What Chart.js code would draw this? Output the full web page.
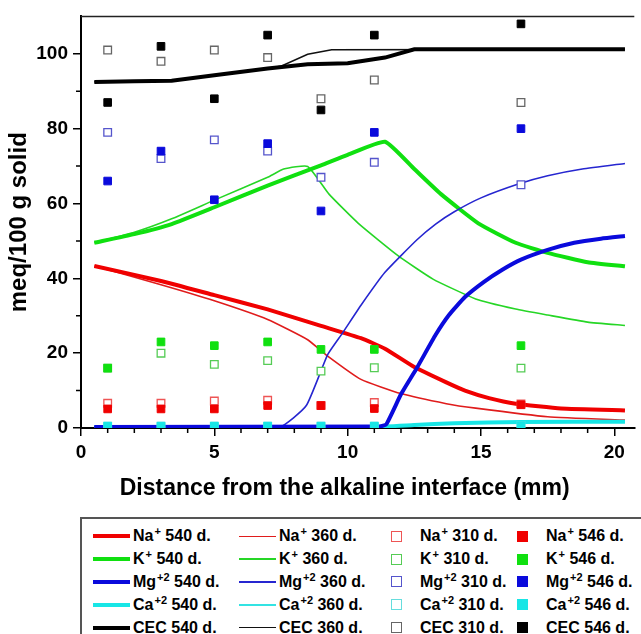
<!DOCTYPE html>
<html>
<head>
<meta charset="utf-8">
<script src="https://cdn.jsdelivr.net/npm/chart.js@4.4.1/dist/chart.umd.min.js"></script>
<style>
  html, body { margin: 0; padding: 0; background: #fff; }
  body { width: 641px; height: 634px; overflow: hidden; position: relative; font-family: 'Liberation Sans', Arial, sans-serif; }
  #chart { position: absolute; left: 0; top: 0; }
  #legend { position: absolute; left: 80px; top: 517px; width: 620px; height: 140px; border: 2px solid #555; box-sizing: border-box; }
  .col { position: absolute; top: 6px; }
  .item { height: 22.8px; display: flex; align-items: center; font-weight: bold; font-size: 16px; white-space: nowrap; color: #000; }
  .item sup { font-size: 11px; line-height: 0; vertical-align: 6px; margin-left: 1px; }
  .line { display: inline-block; width: 37px; margin-right: 3px; }
  .mark { display: inline-block; width: 11px; height: 11px; box-sizing: border-box; margin-right: 18px; }
</style>
</head>
<body>
<canvas id="chart" width="641" height="505"></canvas>
<div id="legend"></div>
<script>
// measured samples (symbols), x in mm
const sampleX = [1, 3, 5, 7, 9, 11, 16.5];
const na310 = [6.6, 6.6, 7.2, 7.4, 6, 6.8, 6.4];
const k310 = [16, 20, 17, 18, 15.2, 16.1, 16];
const mg310 = [79, 72, 77, 74, 67, 71, 65];
const ca310 = [0.5, 0.5, 0.5, 0.5, 0.5, 0.5, 0.6];
const cec310 = [101, 98, 101, 99, 88, 93, 87];
const na546 = [5.1, 5.1, 5.1, 6, 6, 5.2, 6.2];
const k546 = [16, 23, 22, 23, 21, 21, 22];
const mg546 = [66, 74, 61, 76, 58, 79, 80];
const ca546 = [0.5, 0.5, 0.5, 0.5, 0.5, 0.5, 0.6];
const cec546 = [87, 102, 88, 105, 85, 105, 108];

// simulated profiles, 540 d. (thick)
const na540X = [0.5, 3, 5, 7, 9, 10.5, 11.4, 12.5, 13.7, 14.4, 15.3, 16.3, 18, 20.4];
const na540 = [43.3, 39.3, 35.5, 31.7, 27.3, 24, 21.2, 16.3, 12.2, 10, 8, 6.5, 5.2, 4.7];
const k540X = [0.5, 2, 3.4, 5, 7, 9, 10, 11.4, 12.5, 13.5, 14.9, 16.3, 17.5, 19, 20.4];
const k540 = [49.5, 51.8, 54.5, 59, 64.8, 70.2, 73, 76.5, 69.2, 62.5, 54.7, 49.5, 46.8, 44.3, 43.2];
const mg540X = [0.5, 11.2, 11.45, 12, 12.6, 13.3, 13.8, 14.4, 15.1, 15.8, 16.5, 17.5, 18.5, 19.5, 20.4];
const mg540 = [0.3, 0.4, 1, 9, 16.1, 24.9, 30.2, 35, 39, 42.3, 45, 47.6, 49.5, 50.6, 51.3];
const ca540X = [0.5, 11, 12.5, 14, 16.5, 20.4];
const ca540 = [0.3, 0.3, 0.8, 1.3, 1.6, 1.7];
const cec540X = [0.5, 2, 3.4, 5, 7, 8.5, 10, 11.4, 12.5, 20.4];
const cec540 = [92.5, 92.7, 92.8, 94.3, 96.1, 97.2, 97.5, 99, 101.2, 101.2];

// simulated profiles, 360 d. (thin)
const na360X = [0.5, 3, 5, 7, 8.5, 9.2, 10.5, 12, 13.7, 14.8, 17.5, 20.4];
const na360 = [43.3, 38.3, 34, 29, 23.6, 19.5, 13, 9.2, 6.5, 5.3, 3, 2.1];
const k360X = [0.5, 2, 3.4, 5, 7, 7.6, 8.5, 9.3, 10.4, 11.9, 13.2, 14.8, 16.3, 17.5, 19, 20.4];
const k360 = [49.5, 52.3, 55.9, 60.9, 67, 69.2, 69.9, 62.5, 54.7, 46, 39.8, 34.5, 31.8, 30.2, 28.3, 27.4];
const mg360X = [0.5, 7.45, 8.45, 9.25, 9.8, 10.5, 11.4, 12.6, 13.3, 14, 15, 16.4, 17.5, 18.8, 20.4];
const mg360 = [0.3, 0.3, 6, 19.6, 25.3, 32.8, 41.6, 50.3, 54.5, 57.8, 61.5, 65.2, 67.4, 69.2, 70.7];
const ca360X = [0.5, 11, 12.5, 14, 16.5, 20.4];
const ca360 = [0.3, 0.4, 0.9, 1.3, 1.5, 1.6];
const cec360X = [0.5, 3.4, 5, 7, 7.5, 8.5, 9.4, 20.4];
const cec360 = [92.5, 92.8, 94.3, 96.1, 96.7, 99.9, 101.1, 101.2];

const xTicks = [0, 5, 10, 15, 20];
const yTicks = [0, 20, 40, 60, 80, 100];
const ions = ['Na', 'K', 'Mg', 'Ca', 'CEC'];
const charges = ['+', '+', '+2', '+2', ''];
const thickColors = ['#f00000', '#10e010', '#0a0adc', '#17e6e6', '#000000'];
const thinColors = ['#e01c1c', '#26d626', '#2626d0', '#33e3e3', '#111111'];
const openColors = ['#ee5555', '#55cc55', '#5555cc', '#66dddd', '#666666'];
const xTitle = 'Distance from the alkaline interface (mm)';
const yTitle = 'meq/100 g solid';

const FONT = "'Liberation Sans', Arial, sans-serif";
const pts = (xs, ys) => xs.map((x, i) => ({ x: x, y: ys[i] }));

const lines540 = [[na540X, na540], [k540X, k540], [mg540X, mg540], [ca540X, ca540], [cec540X, cec540]];
const lines360 = [[na360X, na360], [k360X, k360], [mg360X, mg360], [ca360X, ca360], [cec360X, cec360]];
const sym310 = [na310, k310, mg310, ca310, cec310];
const sym546 = [na546, k546, mg546, ca546, cec546];

const datasets = [];
lines540.forEach(([xs, ys], i) => datasets.push({
  label: ions[i] + charges[i] + ' 540 d.', ion: ions[i], charge: charges[i], period: '540 d.', kind: 'thick',
  data: pts(xs, ys), showLine: true, borderColor: thickColors[i], backgroundColor: thickColors[i],
  borderWidth: 4, pointRadius: 0, tension: i === 4 ? 0 : 0.15, order: i === 2 ? 2 : 3
}));
lines360.forEach(([xs, ys], i) => datasets.push({
  label: ions[i] + charges[i] + ' 360 d.', ion: ions[i], charge: charges[i], period: '360 d.', kind: 'thin',
  data: pts(xs, ys), showLine: true, borderColor: thinColors[i], backgroundColor: thinColors[i],
  borderWidth: 1.6, pointRadius: 0, tension: i === 4 ? 0 : 0.15, order: i === 2 ? 2 : 4
}));
sym310.forEach((ys, i) => datasets.push({
  label: ions[i] + charges[i] + ' 310 d.', ion: ions[i], charge: charges[i], period: '310 d.', kind: 'open',
  data: pts(sampleX, ys), showLine: false, pointStyle: 'rect', pointRadius: 5.4,
  borderColor: openColors[i], backgroundColor: '#ffffff', borderWidth: 1.3, order: 1, clip: i === 3 ? 0 : undefined
}));
sym546.forEach((ys, i) => datasets.push({
  label: ions[i] + charges[i] + ' 546 d.', ion: ions[i], charge: charges[i], period: '546 d.', kind: 'filled',
  data: pts(sampleX, ys), showLine: false, pointStyle: 'rect', pointRadius: 5.4,
  borderColor: thickColors[i], backgroundColor: thickColors[i], borderWidth: 1, order: 0, clip: i === 3 ? 0 : undefined
}));

// minor ticks, top frame line and x title
const framePlugin = {
  id: 'frame',
  afterDraw(chart) {
    const { ctx, chartArea: a, scales: { x, y } } = chart;
    ctx.save();
    ctx.strokeStyle = '#000';
    ctx.lineWidth = 1.5;
    ctx.beginPath();
    for (let v = 1; v <= 20; v++) {
      if (v % 5 === 0) continue;
      const px = x.getPixelForValue(v);
      ctx.moveTo(px, a.bottom);
      ctx.lineTo(px, a.bottom + 5);
    }
    for (let v = 10; v < 110; v += 20) {
      const py = y.getPixelForValue(v);
      ctx.moveTo(a.left - 5, py);
      ctx.lineTo(a.left, py);
    }
    ctx.stroke();
    ctx.strokeStyle = '#222';
    ctx.beginPath();
    ctx.moveTo(a.left, a.top);
    ctx.lineTo(a.right, a.top);
    ctx.stroke();
    ctx.fillStyle = '#000';
    ctx.font = 'bold 23px ' + FONT;
    ctx.textAlign = 'center';
    ctx.textBaseline = 'alphabetic';
    ctx.fillText(xTitle, (x.getPixelForValue(0) + x.getPixelForValue(20)) / 2 - 3, 495);
    ctx.restore();
  }
};

Chart.defaults.font.family = FONT;
Chart.defaults.color = '#000';

const chart = new Chart(document.getElementById('chart'), {
  type: 'scatter',
  data: { datasets: datasets },
  options: {
    responsive: false,
    animation: false,
    devicePixelRatio: 1,
    layout: { padding: { top: 10, right: 0, left: 0, bottom: 0 } },
    plugins: { legend: { display: false }, tooltip: { enabled: false } },
    scales: {
      x: {
        type: 'linear', min: 0, max: 20.75,
        ticks: { padding: 5, font: { size: 19, weight: 'bold' } },
        afterBuildTicks: s => { s.ticks = xTicks.map(v => ({ value: v })); },
        afterFit: s => { s.height = 77; },
        grid: { display: true, drawOnChartArea: false, drawTicks: true, tickLength: 8, color: '#000', lineWidth: 1.5 },
        border: { display: true, color: '#000', width: 2 }
      },
      y: {
        type: 'linear', min: 0, max: 110,
        ticks: { padding: 5, font: { size: 19, weight: 'bold' } },
        afterBuildTicks: s => { s.ticks = yTicks.map(v => ({ value: v })); },
        afterFit: s => { s.width = 81; },
        grid: { display: true, drawOnChartArea: false, drawTicks: true, tickLength: 8, color: '#000', lineWidth: 1.5 },
        border: { display: true, color: '#000', width: 2 },
        title: { display: true, text: yTitle, font: { size: 24, weight: 'bold' }, padding: { top: 5, bottom: 0 } }
      }
    }
  },
  plugins: [framePlugin]
});

// legend laid out in four columns of five, like the original
const legendEl = document.getElementById('legend');
const colLeft = [11, 157, 309, 435];
const cols = colLeft.map(left => {
  const c = document.createElement('div');
  c.className = 'col';
  c.style.left = left + 'px';
  legendEl.appendChild(c);
  return c;
});
chart.data.datasets.forEach((ds, i) => {
  const item = document.createElement('div');
  item.className = 'item';
  let sw;
  if (ds.kind === 'thick' || ds.kind === 'thin') {
    sw = document.createElement('span');
    sw.className = 'line';
    sw.style.height = (ds.kind === 'thick' ? 4 : 1.6) + 'px';
    sw.style.background = ds.borderColor;
  } else {
    sw = document.createElement('span');
    sw.className = 'mark';
    sw.style.border = '1.3px solid ' + ds.borderColor;
    sw.style.background = ds.backgroundColor;
  }
  item.appendChild(sw);
  const txt = document.createElement('span');
  txt.innerHTML = ds.ion + (ds.charge ? '<sup>' + ds.charge + '</sup>' : '') + ' ' + ds.period;
  item.appendChild(txt);
  cols[Math.floor(i / 5)].appendChild(item);
});
</script>
</body>
</html>
